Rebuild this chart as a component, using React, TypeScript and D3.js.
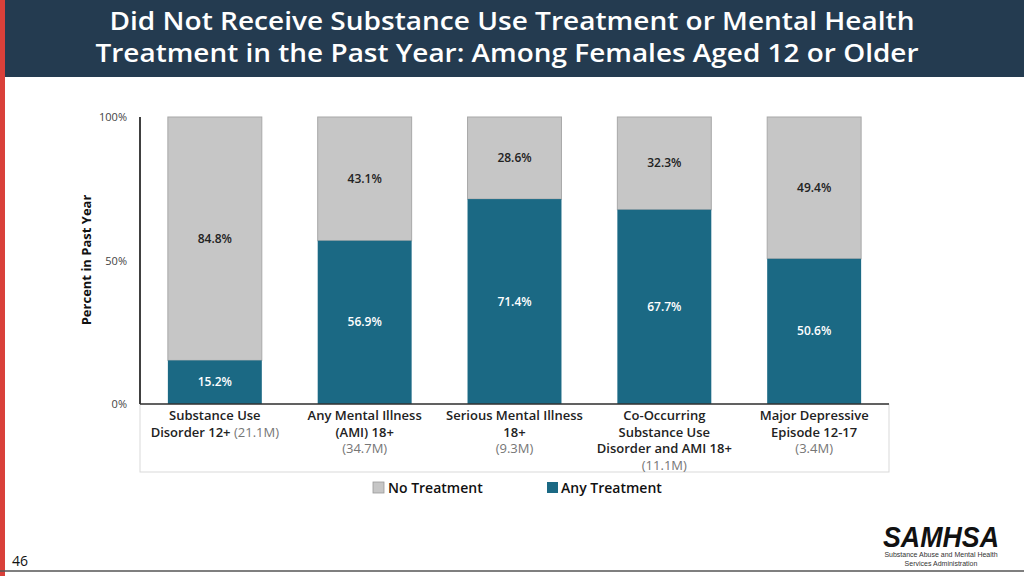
import React from "react";
import * as d3 from "d3";

const categoryLines: string[][] = [
  ["Substance Use", "Disorder 12+|(21.1M)"],
  ["Any Mental Illness", "(AMI) 18+", "#(34.7M)"],
  ["Serious Mental Illness", "18+", "#(9.3M)"],
  ["Co-Occurring", "Substance Use", "Disorder and AMI 18+", "#(11.1M)"],
  ["Major Depressive", "Episode 12-17", "#(3.4M)"],
];
const categories = ["SUD", "AMI", "SMI", "COD", "MDE"];
const anyTreatment = [15.2, 56.9, 71.4, 67.7, 50.6];
const noTreatment = [84.8, 43.1, 28.6, 32.3, 49.4];
const yTicks = [0, 50, 100];

const W = 1024, H = 576;
const BLUE = "#1B6984";
const GRAY = "#C6C6C6";
const FONT = "'Open Sans', 'Noto Sans', sans-serif";

export default function App() {
  const x = d3.scaleBand<string>().domain(categories).range([140, 889]).paddingInner(0.373).paddingOuter(0.186);
  const y = d3.scaleLinear().domain([0, 100]).range([404, 117]);
  const bw = x.bandwidth();
  return (
    <svg width={W} height={H} style={{ position: "absolute", left: 0, top: 0, background: "#fff" }} fontFamily={FONT}>
      <rect x={0} y={0} width={W} height={H} fill="#fff" />
      <rect x={5} y={0} width={W - 5} height={77} fill="#243B50" />
      <rect x={0} y={0} width={5} height={H} fill="#D9403A" />
      <text x={512} y={30} textAnchor="middle" fill="#fff" fontSize={25} fontWeight={600} textLength={805} lengthAdjust="spacingAndGlyphs">
        Did Not Receive Substance Use Treatment or Mental Health
      </text>
      <text x={507} y={62} textAnchor="middle" fill="#fff" fontSize={25} fontWeight={600} textLength={823} lengthAdjust="spacingAndGlyphs">
        Treatment in the Past Year: Among Females Aged 12 or Older
      </text>

      {/* category label box */}
      <rect x={140} y={404} width={749} height={68} fill="none" stroke="#D9D9D9" strokeWidth={1} />

      {categories.map((c, i) => {
        const x0 = x(c)!;
        const top = y(anyTreatment[i] + noTreatment[i]);
        const mid = y(anyTreatment[i]);
        return (
          <g key={c}>
            <rect x={x0} y={top} width={bw} height={mid - top} fill={GRAY} stroke="#A8A8A8" strokeWidth={1} />
            <rect x={x0} y={mid} width={bw} height={y(0) - mid} fill={BLUE} />
            <text x={x0 + bw / 2} y={(top + mid) / 2 + 4} textAnchor="middle" fontSize={12} fontWeight={600} fill="#222">
              {noTreatment[i].toFixed(1)}%
            </text>
            <text x={x0 + bw / 2} y={(mid + y(0)) / 2 + 4} textAnchor="middle" fontSize={12} fontWeight={600} fill="#fff">
              {anyTreatment[i].toFixed(1)}%
            </text>
            {categoryLines[i].map((ln, j) => {
              const yy = 420 + j * 16.5;
              if (ln.startsWith("#")) {
                return <text key={j} x={x0 + bw / 2} y={yy} textAnchor="middle" fontSize={13} fill="#767676">{ln.slice(1)}</text>;
              }
              if (ln.includes("|")) {
                const [a, b] = ln.split("|");
                return (
                  <text key={j} x={x0 + bw / 2} y={yy} textAnchor="middle" fontSize={13} fontWeight={600} fill="#222">
                    {a}<tspan fill="#767676" fontWeight={400}> {b}</tspan>
                  </text>
                );
              }
              return <text key={j} x={x0 + bw / 2} y={yy} textAnchor="middle" fontSize={13} fontWeight={600} fill="#222">{ln}</text>;
            })}
          </g>
        );
      })}

      {/* axes */}
      <line x1={140} x2={140} y1={117} y2={404} stroke="#000" strokeWidth={1.5} />
      <line x1={140} x2={889} y1={404} y2={404} stroke="#333" strokeWidth={1.5} />
      {yTicks.map((t) => (
        <text key={t} x={127} y={y(t) + 4} textAnchor="end" fontSize={11} fill="#444">{t}%</text>
      ))}
      <text transform="translate(91,260) rotate(-90)" textAnchor="middle" fontSize={13} fontWeight="bold" fill="#111">
        Percent in Past Year
      </text>

      {/* legend */}
      <rect x={373} y={482} width={11} height={11} fill={GRAY} stroke="#999" strokeWidth={0.8} />
      <text x={388} y={493} fontSize={14} fontWeight={600} fill="#111">No Treatment</text>
      <rect x={547} y={482} width={11} height={11} fill={BLUE} />
      <text x={561} y={493} fontSize={14} fontWeight={600} fill="#111">Any Treatment</text>

      {/* footer */}
      <text x={12} y={566} fontSize={14} fill="#111">46</text>
      <line x1={0} x2={W} y1={571} y2={571} stroke="#555" strokeWidth={1.5} />
      <text x={941} y={547} textAnchor="middle" fontSize={30} fontWeight="bold" fontStyle="italic" fill="#111" fontFamily="'Liberation Sans', Arial, sans-serif" textLength={116} lengthAdjust="spacingAndGlyphs">SAMHSA</text>
      <text x={941} y={557} textAnchor="middle" fontSize={7} fill="#333" fontFamily="'Liberation Sans', Arial, sans-serif">Substance Abuse and Mental Health</text>
      <text x={941} y={566} textAnchor="middle" fontSize={7} fill="#333" fontFamily="'Liberation Sans', Arial, sans-serif">Services Administration</text>
    </svg>
  );
}
